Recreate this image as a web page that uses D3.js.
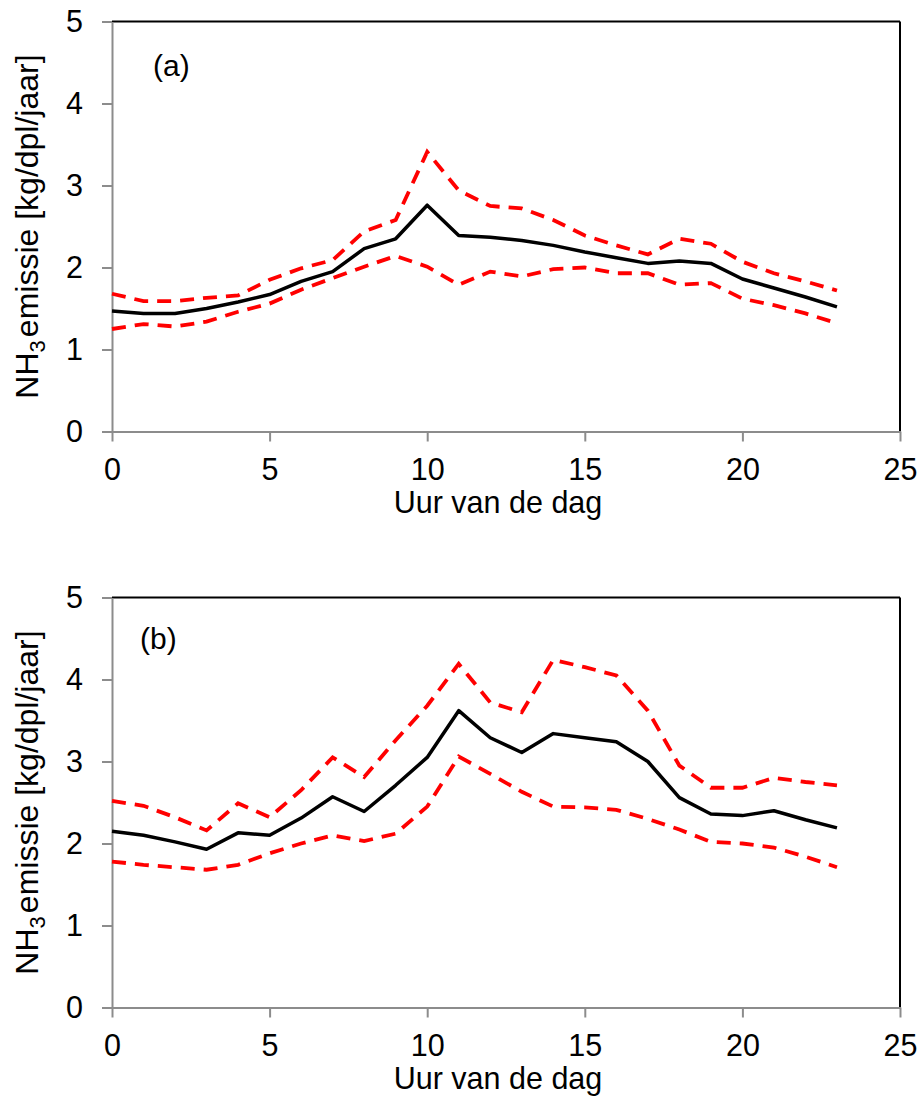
<!DOCTYPE html>
<html>
<head>
<meta charset="utf-8">
<script src="https://cdn.jsdelivr.net/npm/d3@7"></script>
<style>
  body { margin: 0; background: #fff; }
  svg { display: block; }
  text { font-family: "Liberation Sans", Arial, sans-serif; fill: #000; }
</style>
</head>
<body>
<svg id="chart" width="923" height="1110"></svg>
<script>
const hours = d3.range(0, 24);
const xTicks = [0, 5, 10, 15, 20, 25];
const yTicks = [0, 1, 2, 3, 4, 5];

const meanA  = [1.47,1.44,1.44,1.50,1.58,1.67,1.83,1.95,2.23,2.35,2.76,2.39,2.37,2.33,2.27,2.19,2.12,2.05,2.08,2.05,1.86,1.75,1.64,1.52];
const upperA = [1.68,1.59,1.59,1.63,1.66,1.85,1.99,2.09,2.44,2.58,3.41,2.94,2.75,2.72,2.58,2.39,2.27,2.16,2.35,2.29,2.07,1.93,1.83,1.72];
const lowerA = [1.25,1.31,1.28,1.34,1.46,1.56,1.73,1.87,2.01,2.14,2.01,1.79,1.95,1.89,1.98,2.00,1.93,1.93,1.79,1.81,1.62,1.54,1.44,1.32];

const meanB  = [2.15,2.10,2.02,1.93,2.13,2.10,2.31,2.57,2.39,2.71,3.05,3.62,3.29,3.11,3.34,3.29,3.24,3.00,2.56,2.36,2.34,2.40,2.29,2.19];
const upperB = [2.52,2.46,2.32,2.16,2.49,2.32,2.65,3.05,2.81,3.26,3.68,4.19,3.72,3.60,4.24,4.15,4.05,3.62,2.95,2.68,2.68,2.80,2.75,2.71];
const lowerB = [1.78,1.74,1.71,1.68,1.74,1.88,2.00,2.10,2.03,2.12,2.45,3.06,2.85,2.63,2.45,2.44,2.41,2.30,2.17,2.02,2.00,1.95,1.84,1.71];

const panels = [
  { label: "(a)", top: 21.5, bottom: 431.5, mean: meanA, upper: upperA, lower: lowerA, lx: 153, ly: 76 },
  { label: "(b)", top: 597.5, bottom: 1007.5, mean: meanB, upper: upperB, lower: lowerB, lx: 140, ly: 649 }
];

const svg = d3.select("#chart");
const left = 112, right = 900;
const x = d3.scaleLinear().domain([0, 25]).range([left, right]);
const gray = "#8c8c8c";

panels.forEach(p => {
  const y = d3.scaleLinear().domain([0, 5]).range([p.bottom, p.top]);
  const g = svg.append("g");

  g.append("line").attr("x1", left).attr("x2", right).attr("y1", p.top).attr("y2", p.top)
    .attr("stroke", "#000").attr("stroke-width", 2);
  g.append("line").attr("x1", right).attr("x2", right).attr("y1", p.top).attr("y2", p.bottom)
    .attr("stroke", "#000").attr("stroke-width", 2);

  const ya = g.append("g").attr("transform", `translate(${left},0)`)
    .call(d3.axisLeft(y).tickValues(yTicks).tickSize(10).tickPadding(19).tickSizeOuter(0).tickFormat(d3.format("d")));
  ya.select(".domain").attr("stroke", gray).attr("stroke-width", 2);
  ya.selectAll(".tick line").attr("stroke", gray).attr("stroke-width", 2);
  ya.selectAll(".tick text").attr("font-size", 30.5).attr("font-family", "Liberation Sans, Arial, sans-serif").attr("fill", "#000");

  const xa = g.append("g").attr("transform", `translate(0,${p.bottom})`)
    .call(d3.axisBottom(x).tickValues(xTicks).tickSize(10).tickPadding(0).tickSizeOuter(0).tickFormat(d3.format("d")));
  xa.select(".domain").attr("stroke", gray).attr("stroke-width", 2);
  xa.selectAll(".tick line").attr("stroke", gray).attr("stroke-width", 2);
  xa.selectAll(".tick text").attr("font-size", 30.5).attr("font-family", "Liberation Sans, Arial, sans-serif")
    .attr("fill", "#000").attr("dy", null).attr("y", 48.5);

  g.append("text").attr("x", 498).attr("y", p.bottom + 81).attr("text-anchor", "middle")
    .attr("font-size", 30.5).text("Uur van de dag");

  const cy = (p.top + p.bottom) / 2;
  const yt = g.append("text").attr("transform", `translate(38,${cy}) rotate(-90)`)
    .attr("text-anchor", "middle").attr("font-size", 32);
  yt.append("tspan").text("NH");
  yt.append("tspan").attr("font-size", 22).attr("dy", 7).text("3");
  yt.append("tspan").attr("dy", -7).attr("dx", 3).text("emissie [kg/dpl/jaar]");

  g.append("text").attr("x", p.lx).attr("y", p.ly).attr("font-size", 30).text(p.label);

  const line = d3.line().x((d, i) => x(hours[i])).y(d => y(d));

  g.append("path").datum(p.upper).attr("d", line).attr("fill", "none")
    .attr("stroke", "#ff0000").attr("stroke-width", 3.8).attr("stroke-dasharray", "14,9");
  g.append("path").datum(p.lower).attr("d", line).attr("fill", "none")
    .attr("stroke", "#ff0000").attr("stroke-width", 3.8).attr("stroke-dasharray", "14,9");
  g.append("path").datum(p.mean).attr("d", line).attr("fill", "none")
    .attr("stroke", "#000").attr("stroke-width", 3.5).attr("stroke-linejoin", "round");
});
</script>
</body>
</html>
